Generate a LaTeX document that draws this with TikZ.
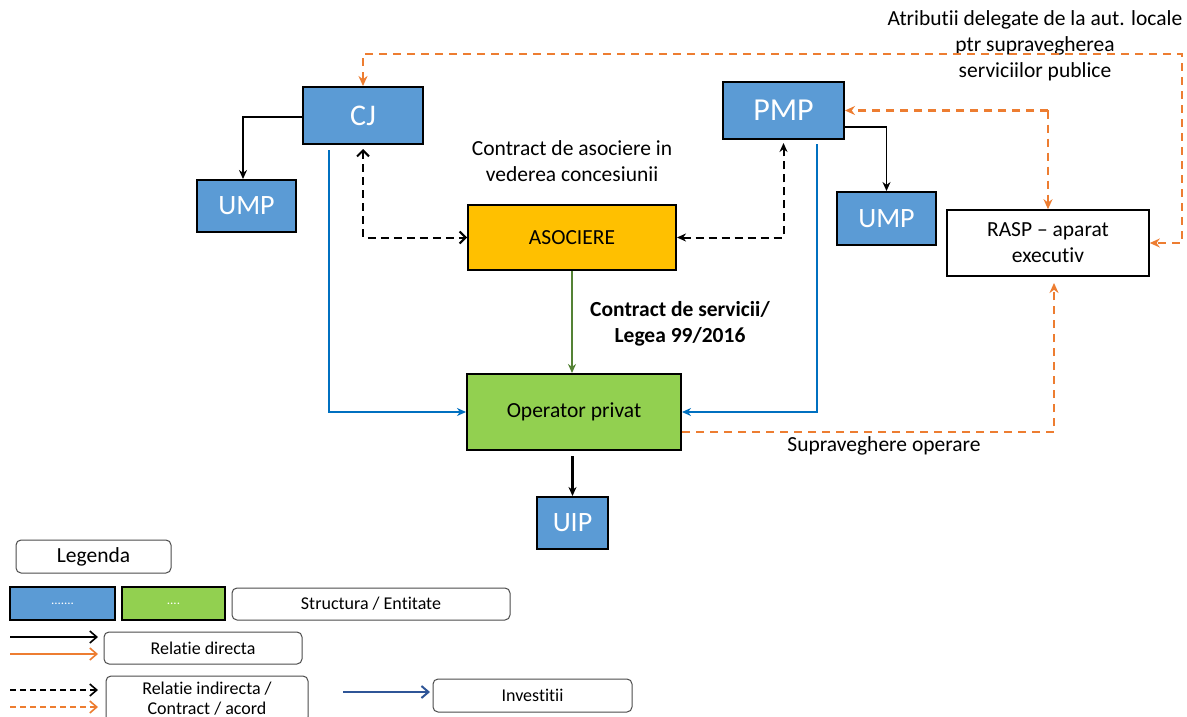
\documentclass[tikz,border=0pt]{standalone}
\usepackage{fontspec}
\setmainfont{Carlito}[RawFeature={-liga}]
\usetikzlibrary{arrows.meta}
\definecolor{boxblue}{HTML}{5B9BD5}
\definecolor{boxgreen}{HTML}{92D050}
\definecolor{boxgold}{HTML}{FFC000}
\definecolor{lineblue}{HTML}{0070C0}
\definecolor{lineorange}{HTML}{ED7D31}
\definecolor{linegreen}{HTML}{548235}
\definecolor{legblue}{HTML}{2F5597}
\tikzset{
  ent/.style={draw=black, line width=2pt, fill=boxblue, text=white, inner sep=0pt, font=\fontsize{28}{30}\selectfont},
  plainbox/.style={draw=black, line width=1.6pt, fill=white, inner sep=0pt, align=center, font=\fontsize{21.5}{26}\selectfont},
  legbox/.style={draw=black!70, line width=1pt, rounded corners=5pt, fill=white, inner sep=0pt, align=center, font=\fontsize{18}{22}\selectfont},
  lbl/.style={align=center, inner sep=0pt, font=\fontsize{21.5}{26}\selectfont},
  blk/.style={draw=black, line width=1.8pt, -{Stealth[length=9pt,width=8pt]}},
  dblk/.style={draw=black, line width=2pt, dash pattern=on 8pt off 5pt},
  blu/.style={draw=lineblue, line width=2pt, -{Stealth[length=9pt,width=8pt]}},
  orng/.style={draw=lineorange, line width=2pt, dash pattern=on 8pt off 6pt},
  otip/.style={-{Stealth[length=10pt,width=9pt]}},
  openbarb/.style={-{Straight Barb[length=7pt,width=12pt]}},
}
\begin{document}
\begin{tikzpicture}[x=1pt,y=-1pt]
\useasboundingbox[fill=white] (0,0) rectangle (1187,717);

% entities
\node[ent, minimum width=120pt, minimum height=57pt, font=\fontsize{30}{32}\selectfont] (CJ) at (363,115.5) {CJ};
\node[ent, minimum width=99pt, minimum height=52pt] (UMPL) at (246.5,206) {UMP};
\node[ent, fill=boxgold, text=black, minimum width=208pt, minimum height=65pt, font=\fontsize{21.5}{26}\selectfont] (ASOC) at (572,237.5) {ASOCIERE};
\node[ent, fill=boxgreen, text=black, minimum width=214pt, minimum height=76pt, font=\fontsize{21.5}{26}\selectfont] (OP) at (574,412) {Operator privat};
\node[ent, minimum width=71pt, minimum height=52pt] (UIP) at (572.5,523) {UIP};
\node[ent, minimum width=121pt, minimum height=57pt, font=\fontsize{32}{34}\selectfont] (PMP) at (783.5,110.5) {PMP};
\node[ent, minimum width=99pt, minimum height=53pt] (UMPR) at (886.5,218.5) {UMP};
\node[plainbox, minimum width=202pt, minimum height=66pt] (RASP) at (1048,243) {RASP -- aparat\\executiv};

% labels
\node[lbl] (latr) at (1035,46) {Atributii delegate de la aut. locale\\ptr supravegherea\\serviciilor publice};
\node[lbl] (lasoc) at (572,161) {Contract de asociere in\\vederea concesiunii};
\node[lbl, font=\bfseries\fontsize{21.5}{26}\selectfont] (lserv) at (680,324) {Contract de servicii/\\Legea 99/2016};
\node[lbl] (lsup) at (884,446) {Supraveghere operare};

% connectors
\draw[blk] ([yshift=-1.5pt]CJ.west) -| ([xshift=-3.5pt]UMPL.north);
\draw[dblk, {Straight Barb[length=6pt,width=12pt]}-{Straight Barb[length=6pt,width=12pt]}] ([yshift=-4pt]CJ.south) |- (ASOC.west);
\draw[dblk, {Stealth[length=9pt,width=8pt]}-{Stealth[length=9pt,width=8pt]}] (ASOC.east) -| ([yshift=-3pt]PMP.south);
\draw[blu] ([xshift=-34pt,yshift=-5pt]CJ.south) |- (OP.west);
\draw[blu] ([xshift=33.5pt,yshift=-4pt]PMP.south) |- (OP.east);
\draw[draw=linegreen, line width=2pt, -{Stealth[length=9pt,width=8pt]}] (ASOC.south) -- (ASOC.south |- OP.north);
\draw[blk, line width=2.4pt] ([yshift=-5pt]UIP.north |- OP.south) -- (UIP.north);
\draw[blk] ([yshift=-16.5pt]PMP.east) -| (UMPR.north);

\coordinate (k1) at (RASP.north |- PMP.east);
\draw[orng, otip] (k1) -- (PMP.east);
\draw[orng, otip] (k1) -- (RASP.north);
\coordinate (k2) at (1182,54);
\draw[orng, {Stealth[length=10pt,width=9pt]}-{Stealth[length=10pt,width=9pt]}] (CJ.north) |- (k2) |- (RASP.east);
\coordinate (k3) at (1054,283);
\draw[orng, otip] ([yshift=-20pt]OP.east) -| (k3);

% legend
\node[legbox, minimum width=155pt, minimum height=33pt, font=\fontsize{21.5}{26}\selectfont] (leg) at (93.5,556.5) {Legenda};
\node[ent, line width=1.4pt, minimum width=105pt, minimum height=33pt, font=\fontsize{13}{14}\selectfont] (lb1) at (62.5,603.5) {.......};
\node[ent, line width=1.4pt, fill=boxgreen, minimum width=103pt, minimum height=33pt, font=\fontsize{13}{14}\selectfont, text=white] (lb2) at (173.5,603.5) {....};
\node[legbox, minimum width=278pt, minimum height=32pt] (lstr) at (371,604) {Structura / Entitate};
\node[legbox, minimum width=198pt, minimum height=32pt] (ldir) at (203,648) {Relatie directa};
\node[legbox, minimum width=202pt, minimum height=46pt, font=\fontsize{18}{20}\selectfont] (lind) at (207,699) {Relatie indirecta /\\Contract / acord};
\node[legbox, minimum width=199pt, minimum height=33pt] (linv) at (532.5,695.5) {Investitii};

\coordinate (a1s) at (10,637); \coordinate (a1e) at (98,637);
\coordinate (a2s) at (10,654); \coordinate (a2e) at (98,654);
\coordinate (a3s) at (10,690); \coordinate (a3e) at (98,690);
\coordinate (a4s) at (10,707); \coordinate (a4e) at (98,707);
\coordinate (a5s) at (343,692); \coordinate (a5e) at (430,692);
\draw[draw=black, line width=1.6pt, openbarb] (a1s) -- (a1e);
\draw[draw=lineorange, line width=1.6pt, openbarb] (a2s) -- (a2e);
\draw[draw=black, line width=1.6pt, dash pattern=on 6pt off 4pt, openbarb] (a3s) -- (a3e);
\draw[draw=lineorange, line width=1.6pt, dash pattern=on 6pt off 4pt, openbarb] (a4s) -- (a4e);
\draw[draw=legblue, line width=2pt, openbarb] (a5s) -- (a5e);
\end{tikzpicture}
\end{document}
